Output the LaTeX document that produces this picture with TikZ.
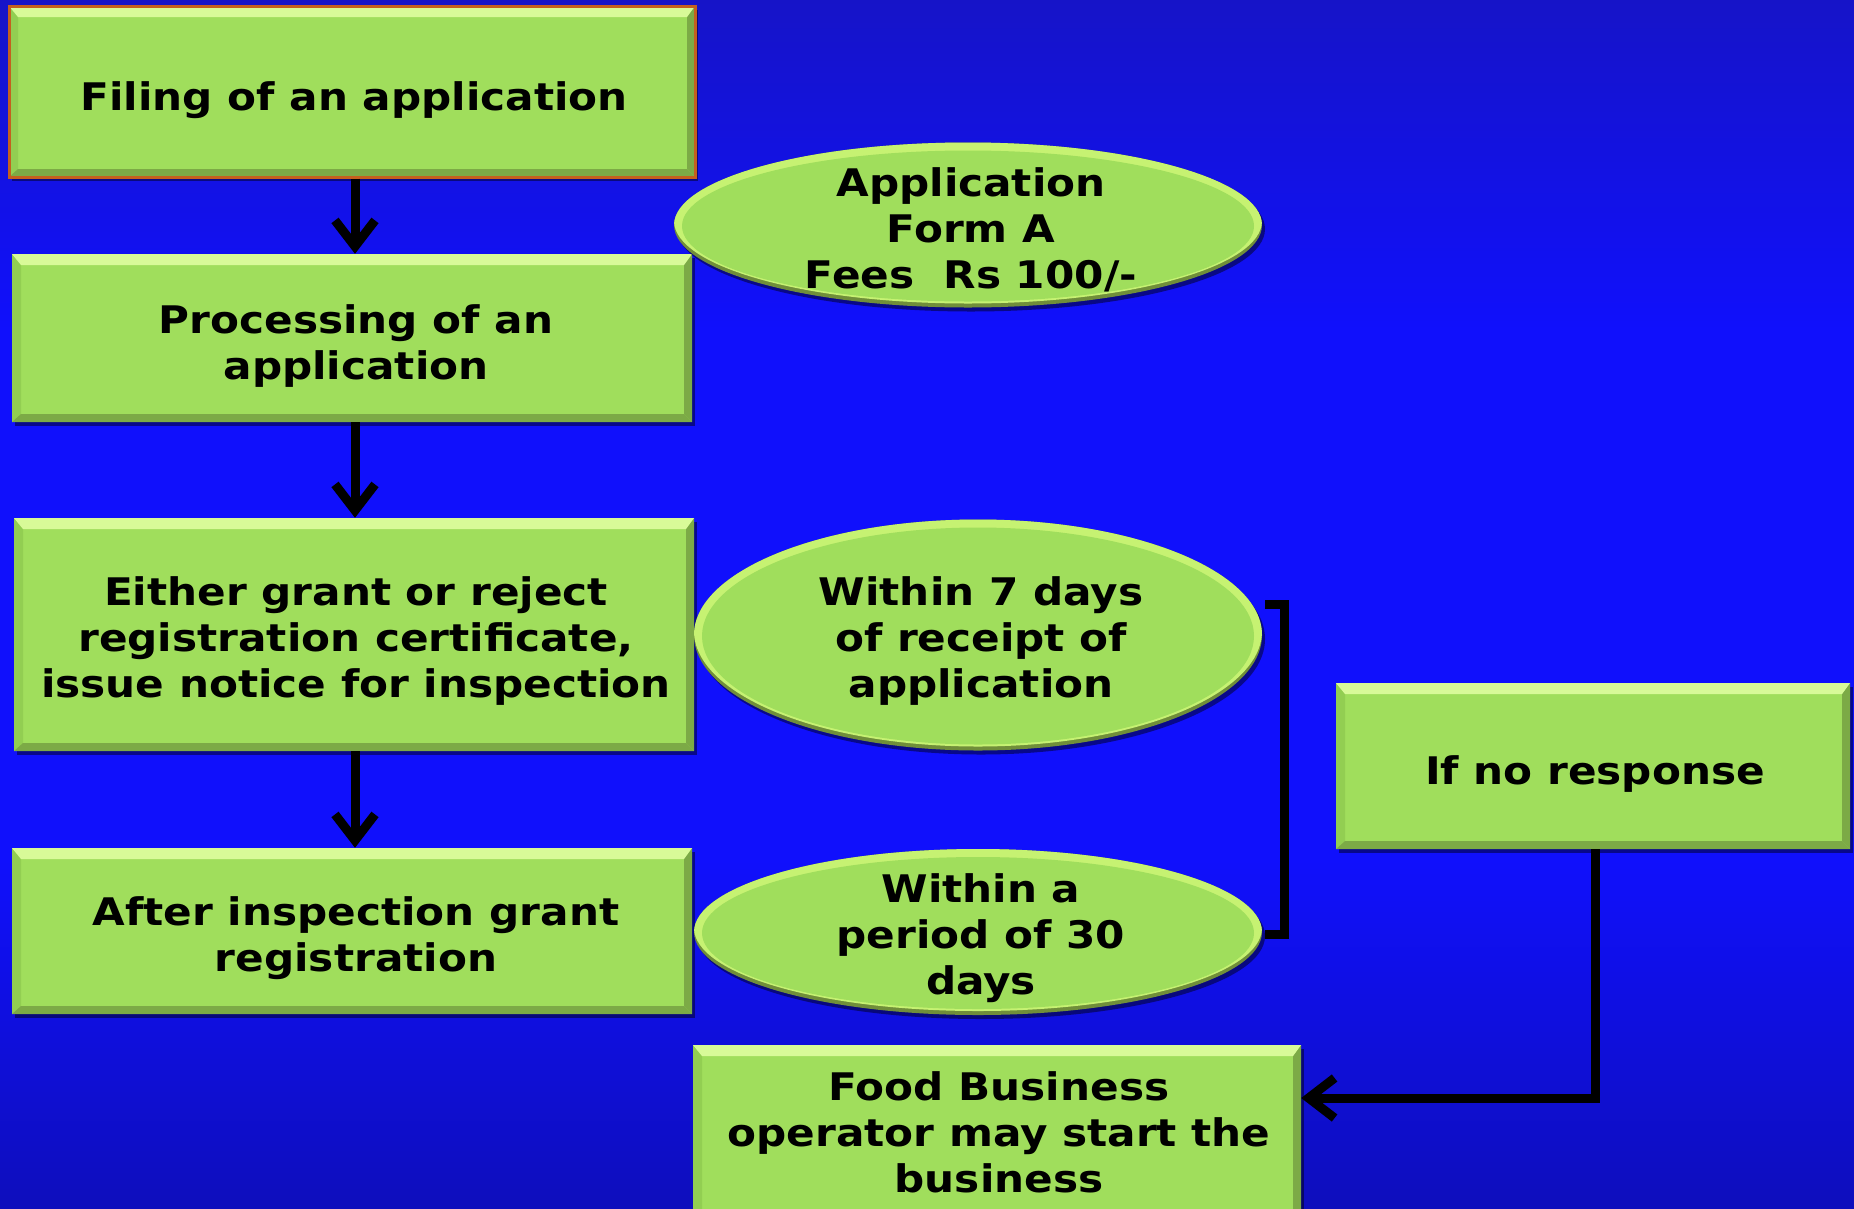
\documentclass[tikz,border=0pt]{standalone}
\usepackage{fontspec}
\newfontfamily\dvfont{DejaVu Sans Bold}[FakeStretch=1.11]
\usetikzlibrary{arrows.meta,calc,shapes.geometric,shadows}
\definecolor{bgmid}{RGB}{16,16,252}
\definecolor{bgtop}{RGB}{22,20,200}
\definecolor{bgbot}{RGB}{14,14,188}
\definecolor{boxgreen}{RGB}{160,222,92}
\definecolor{bevlight}{RGB}{216,250,152}
\definecolor{bevdark}{RGB}{124,170,70}
\definecolor{bevside}{RGB}{146,206,82}
\definecolor{rimlight}{RGB}{198,242,114}
\definecolor{rimdark}{RGB}{112,142,58}
\definecolor{orangeedge}{RGB}{196,96,30}
\tikzset{
  txt/.style={font=\dvfont\fontsize{38}{46}\selectfont, align=center, text=black, inner sep=0pt},
  shadowed/.style={drop shadow={shadow xshift=3pt, shadow yshift=-4pt, opacity=0.45, fill=black}},
  bevelbox/.style={rectangle, inner sep=0pt, fill=boxgreen, shadowed,
    path picture={
      \path (path picture bounding box.north west) coordinate (pNW)
            (path picture bounding box.south east) coordinate (pSE);
      \fill[bevside] (pNW) -- (pSE -| pNW) -- ([shift={(9pt,8pt)}]pSE -| pNW) -- ([shift={(9pt,-11pt)}]pNW) -- cycle;
      \fill[bevdark] (pSE) -- (pNW -| pSE) -- ([shift={(-8pt,-11pt)}]pNW -| pSE) -- ([shift={(-8pt,8pt)}]pSE) -- cycle;
      \fill[bevdark] (pSE) -- (pSE -| pNW) -- ([shift={(9pt,8pt)}]pSE -| pNW) -- ([shift={(-8pt,8pt)}]pSE) -- cycle;
      \fill[bevlight] (pNW) -- (pNW -| pSE) -- ([shift={(-8pt,-11pt)}]pNW -| pSE) -- ([shift={(9pt,-11pt)}]pNW) -- cycle;
    }},
  ovalshape/.style={ellipse, inner sep=0pt, fill=rimdark, shadowed,
    path picture={
      \fill[rimlight] let \p1=(path picture bounding box.center), \p2=(path picture bounding box.north east) in
        (\x1,\y1+4pt) ellipse [x radius=\x2-\x1, y radius=\y2-\y1];
      \fill[boxgreen] let \p1=(path picture bounding box.center), \p2=(path picture bounding box.north east) in
        (\x1,\y1-1pt) ellipse [x radius=\x2-\x1-8pt, y radius=\y2-\y1-7pt];
    }},
  conn/.style={line width=9pt, draw=black},
  arr/.style={conn, -{Straight Barb[length=26pt,width=40pt]}},
}
\begin{document}
\begin{tikzpicture}[x=1pt,y=-1pt]
\useasboundingbox (0,0) rectangle (1854,1208);
\clip (0,0) rectangle (1854,1208);
% background
\fill[bgmid] (0,0) rectangle (1854,1208);
\shade[top color=bgtop, bottom color=bgmid] (0,0) rectangle (1854,330);
\shade[top color=bgmid, bottom color=bgbot] (0,860) rectangle (1854,1208);

% boxes
\node[bevelbox, draw=orangeedge, line width=3pt, minimum width=686pt, minimum height=171pt] (n1) at (352,91.5) {};
\node[bevelbox, minimum width=680pt, minimum height=168pt] (n2) at (352,338) {};
\node[bevelbox, minimum width=680pt, minimum height=233pt] (n3) at (354,634.5) {};
\node[bevelbox, minimum width=680pt, minimum height=166pt] (n4) at (352,931) {};
\node[bevelbox, minimum width=514pt, minimum height=166pt] (n5) at (1593,766) {};
\node[bevelbox, minimum width=608pt, minimum height=176pt] (n6) at (997,1133) {};

\node[txt] (n1t) at (354,100) {Filing of an application};
\node[txt] (n2t) at (356,346) {Processing of an\\application};
\node[txt] (n3t) at (356,641) {Either grant or reject\\registration certificate,\\issue notice for inspection};
\node[txt] (n4t) at (356,938) {After inspection grant\\registration};
\node[txt] (n5t) at (1595,774) {If no response};
\node[txt] (n6t) at (999,1132) {Food Business\\operator may start the\\business};

% ellipses
\node[ovalshape, minimum width=588pt, minimum height=165pt] (e1) at (968,225) {};
\node[txt] (e1t) at (971,229.5) {Application\\Form A\\Fees\ \ Rs\ 100/-};
\node[ovalshape, minimum width=568pt, minimum height=231pt] (e2) at (978,635) {};
\node[txt] (e2t) at (981,641.5) {Within 7 days\\of receipt of\\application};
\node[ovalshape, minimum width=568pt, minimum height=166pt] (e3) at (978,932) {};
\node[txt] (e3t) at (981,938.5) {Within a\\period of 30\\days};

% arrows
\draw[arr] (n1.south -| 355,0) -- (n2.north -| 355,0);
\draw[arr] (n2.south -| 355,0) -- (n3.north -| 355,0);
\draw[arr] (n3.south -| 355,0) -- (n4.north -| 355,0);
\draw[arr] (n5.south -| 1595,0) |- ([yshift=35pt]n6.east);

% bracket
\coordinate (bt) at (1265,604);
\coordinate (bb) at (1265,934);
\draw[conn] (bt) -- ++(19,0) |- (bb);
\end{tikzpicture}
\end{document}
